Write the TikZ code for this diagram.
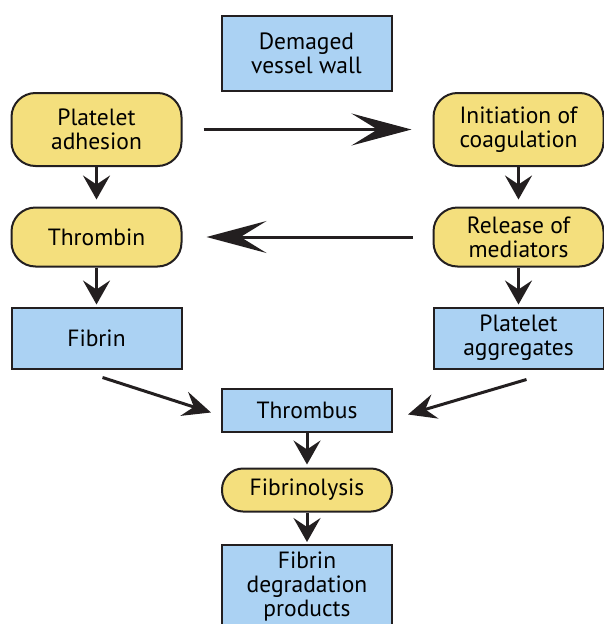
\documentclass[tikz,border=0pt]{standalone}
\usepackage{fontspec}
\setmainfont{PT Sans}
\usetikzlibrary{arrows.meta,calc}
\definecolor{boxblue}{HTML}{ABD2F3}
\definecolor{boxyellow}{HTML}{F4DF7D}
\definecolor{edgec}{HTML}{231F20}
\newcommand{\fsz}{\fontsize{23.5}{24}\selectfont}
\begin{document}
\begin{tikzpicture}[x=1pt,y=-1pt,
  bbox/.style={draw=edgec, line width=2pt, fill=boxblue, align=center, font=\fsz, inner sep=0pt, minimum width=170pt},
  ybox/.style={draw=edgec, line width=2pt, fill=boxyellow, rounded corners=24pt, align=center, font=\fsz, inner sep=0pt, minimum width=170pt},
  bigarr/.style={draw=edgec, line width=3pt, -{Stealth[length=60pt,width=32pt,inset=26pt]}},
  smallarr/.style={draw=edgec, line width=3pt, -{Stealth[length=24pt,width=27pt,inset=9pt]}},
  diagarr/.style={draw=edgec, line width=3pt, -{Stealth[length=28pt,width=25pt,inset=10pt]}}
]
\useasboundingbox (0,0) rectangle (603,624);
\node[bbox, minimum height=75pt] (dmg) at (306.5,53) {Demaged\\vessel wall};
\node[ybox, minimum height=73pt] (pa) at (96.5,129.5) {Platelet\\adhesion};
\node[ybox, minimum height=73pt] (ic) at (518.5,129.5) {Initiation of\\coagulation};
\node[ybox, minimum height=59pt] (thb) at (96.5,237) {Thrombin};
\node[ybox, minimum height=59pt] (rel) at (518.5,237) {Release of\\mediators};
\node[bbox, minimum height=61pt] (fib) at (96.5,338) {Fibrin};
\node[bbox, minimum height=61pt] (pag) at (518.5,338) {Platelet\\aggregates};
\node[bbox, minimum height=43pt] (thr) at (307,410.5) {Thrombus};
\node[ybox, rounded corners=21pt, minimum height=43pt] (fl) at (307,490) {Fibrinolysis};
\node[bbox, minimum height=84pt] (fdp) at (307,587) {Fibrin\\degradation\\products};

\draw[bigarr, shorten <=21pt, shorten >=21pt] (pa) -- (ic);
\draw[bigarr, shorten <=20pt, shorten >=24pt] (rel) -- (thb);
\draw[smallarr, shorten >=7pt] (pa) -- (thb);
\draw[smallarr, shorten >=7pt] (ic) -- (rel);
\draw[smallarr, shorten >=2pt] (thb) -- (fib);
\draw[smallarr, shorten >=2pt] (rel) -- (pag);
\draw[smallarr, shorten >=3pt] (thr) -- (fl);
\draw[smallarr, shorten >=2pt] (fl) -- (fdp);
\draw[diagarr] ($(fib.south)+(6,8)$) -- ($(thr.west)+(-10,2)$);
\draw[diagarr] ($(pag.south)+(8,10)$) -- ($(thr.east)+(15,4)$);
\end{tikzpicture}
\end{document}
